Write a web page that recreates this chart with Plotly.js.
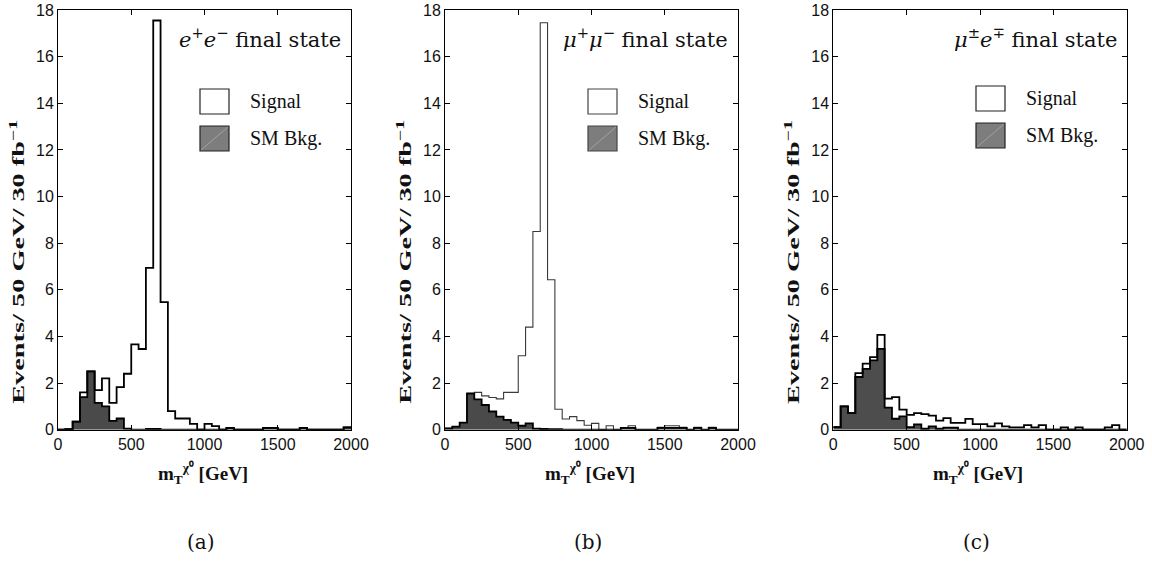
<!DOCTYPE html>
<html>
<head>
<meta charset="utf-8">
<script src="https://cdn.plot.ly/plotly-3.0.1.min.js"></script>
<style>
html,body{margin:0;padding:0;background:#fff;}
#chart{width:1152px;height:567px;}
</style>
</head>
<body>
<div id="chart"></div>
<script>
// ---- data: 40 bins of 50 GeV from 0 to 2000 GeV ----
const binWidth = 50;
const nBins = 40;
const binEdges = Array.from({length: nBins + 1}, (_, i) => i * binWidth);

const xTickVals = [0, 500, 1000, 1500, 2000];
const yTickVals = [0, 2, 4, 6, 8, 10, 12, 14, 16, 18];

// (a) e+e- final state
const signalEE = [0, 0.02, 0.35, 1.6, 2.5, 1.7, 2.2, 1.15, 1.83, 2.4,
                  3.66, 3.46, 6.94, 17.55, 5.47, 0.8, 0.48, 0.48, 0.25, 0,
                  0.25, 0.15, 0, 0.08, 0, 0, 0, 0, 0.08, 0.08,
                  0, 0, 0, 0.08, 0, 0, 0, 0, 0, 0.1];
const bkgEE    = [0, 0.02, 0.35, 1.4, 2.5, 1.15, 1.0, 0.38, 0.48, 0.05,
                  0, 0, 0.03, 0.03, 0, 0, 0, 0, 0, 0,
                  0, 0, 0, 0.08, 0, 0, 0, 0, 0.08, 0.08,
                  0, 0, 0, 0.08, 0, 0, 0, 0, 0, 0.1];
// (b) mu+mu- final state
const signalMM = [0.06, 0.13, 0.3, 1.57, 1.6, 1.45, 1.38, 1.32, 1.6, 1.6,
                  3.17, 4.4, 8.5, 17.45, 6.43, 0.88, 0.46, 0.56, 0.39, 0.19,
                  0.27, 0, 0.17, 0, 0.08, 0.17, 0, 0, 0, 0.1,
                  0.17, 0.17, 0.1, 0, 0.1, 0, 0.1, 0, 0, 0];
const bkgMM    = [0.06, 0.13, 0.3, 1.55, 1.3, 1.06, 0.78, 0.56, 0.42, 0.3,
                  0.17, 0.27, 0.05, 0.03, 0.02, 0.02, 0, 0, 0, 0,
                  0, 0, 0, 0, 0.08, 0.08, 0, 0, 0, 0.08,
                  0.08, 0.08, 0.08, 0, 0.08, 0, 0.08, 0, 0, 0];
// (c) mu+-e-+ final state
const signalME = [0.11, 1.0, 0.71, 2.43, 2.83, 3.11, 4.07, 1.33, 1.4, 0.86,
                  0.64, 0.71, 0.67, 0.6, 0.39, 0.5, 0.29, 0.29, 0.46, 0.24,
                  0.24, 0.14, 0.27, 0.14, 0.1, 0.1, 0.2, 0.1, 0.2, 0,
                  0, 0.1, 0, 0.1, 0, 0, 0, 0.1, 0.2, 0];
const bkgME    = [0.11, 1.0, 0.71, 2.26, 2.61, 2.97, 3.47, 0.95, 0.47, 0.57,
                  0.11, 0.23, 0.04, 0.14, 0.04, 0.09, 0.09, 0, 0, 0,
                  0, 0, 0, 0, 0, 0, 0, 0, 0, 0,
                  0, 0, 0, 0, 0, 0, 0, 0, 0, 0];

const panelTitles = ['<i>e</i><sup>+</sup><i>e</i><sup>−</sup> final state',
                     '<i>μ</i><sup>+</sup><i>μ</i><sup>−</sup> final state',
                     '<i>μ</i><sup>±</sup><i>e</i><sup>∓</sup> final state'];
const captions = ['(a)', '(b)', '(c)'];
const legendLabels = ['Signal', 'SM Bkg.'];
const yTitle = '<b>Events/ 50 GeV/ 30 fb<sup>−1</sup></b>';
const xTitle = '<b>m<sub>T</sub><sup>χ⁰</sup> [GeV]</b>';

// ---- layout geometry (pixels of the 1152x567 canvas) ----
const W = 1152, H = 567;
const px = v => v / W;
const py = v => 1 - v / H;
const panels = [
  {sig: signalEE, bkg: bkgEE, x0: 58, x1: 351, sigColor: '#000', sigWidth: 1.8, fill: '#4a4a4a', legX: 200, legY: 89},
  {sig: signalMM, bkg: bkgMM, x0: 445, x1: 738, sigColor: '#3a3a3a', sigWidth: 1.1, fill: '#4a4a4a', legX: 588, legY: 89},
  {sig: signalME, bkg: bkgME, x0: 833.3, x1: 1126.7, sigColor: '#000', sigWidth: 1.8, fill: '#4d4d4d', legX: 976, legY: 86}
];
const yTop = 10, yBot = 429.7;

function stepY(vals) { return vals.concat([vals[vals.length - 1]]); }

const traces = [];
const layout = {
  width: W, height: H,
  margin: {l: 0, r: 0, t: 0, b: 0},
  paper_bgcolor: '#fff', plot_bgcolor: '#fff',
  showlegend: false,
  font: {family: 'Liberation Sans, Arial, sans-serif', size: 16, color: '#111'},
  annotations: [], shapes: []
};

panels.forEach((p, i) => {
  const xa = i === 0 ? 'x' : 'x' + (i + 1);
  const ya = i === 0 ? 'y' : 'y' + (i + 1);
  const xKey = i === 0 ? 'xaxis' : 'xaxis' + (i + 1);
  const yKey = i === 0 ? 'yaxis' : 'yaxis' + (i + 1);

  // background filled histogram
  traces.push({x: binEdges, y: stepY(p.bkg), xaxis: xa, yaxis: ya, type: 'scatter', mode: 'lines',
    line: {shape: 'hv', width: 0, color: p.fill}, fill: 'tozeroy', fillcolor: p.fill, hoverinfo: 'skip'});
  // signal outline
  traces.push({x: binEdges, y: stepY(p.sig), xaxis: xa, yaxis: ya, type: 'scatter', mode: 'lines',
    line: {shape: 'hv', width: p.sigWidth, color: p.sigColor}, hoverinfo: 'skip'});
  // background outline
  traces.push({x: binEdges, y: stepY(p.bkg), xaxis: xa, yaxis: ya, type: 'scatter', mode: 'lines',
    line: {shape: 'hv', width: 1.8, color: '#000'}, hoverinfo: 'skip'});

  layout[xKey] = {
    domain: [px(p.x0), px(p.x1)], anchor: ya, range: [0, 2000],
    tickvals: xTickVals, ticktext: xTickVals.map(String), ticks: 'inside', ticklen: 5,
    tickcolor: '#000', showline: true, linecolor: '#000', linewidth: 1, mirror: 'ticks',
    showgrid: false, zeroline: false, fixedrange: true
  };
  layout[yKey] = {
    domain: [py(yBot), py(yTop)], anchor: xa, range: [0, 18],
    tickvals: yTickVals, ticktext: yTickVals.map(String), ticks: 'inside', ticklen: 5,
    tickcolor: '#000', showline: true, linecolor: '#000', linewidth: 1, mirror: 'ticks',
    showgrid: false, zeroline: false, fixedrange: true
  };

  const cx = (p.x0 + p.x1) / 2;
  // panel label
  layout.annotations.push({xref: 'paper', yref: 'paper', x: px(p.x1 - 8), y: py(38), xanchor: 'right', yanchor: 'middle',
    text: panelTitles[i], showarrow: false, font: {family: 'DejaVu Serif, serif', size: 21, color: '#111'}});
  // axis titles
  layout.annotations.push({xref: 'paper', yref: 'paper', x: px(p.x0 - 41), y: py(262), xanchor: 'center', yanchor: 'middle',
    text: yTitle, textangle: -90, showarrow: false, font: {family: 'Liberation Serif, Times New Roman, serif', size: 17, color: '#111'}});
  layout.annotations.push({xref: 'paper', yref: 'paper', x: px(cx - 2), y: py(473), xanchor: 'center', yanchor: 'middle',
    text: xTitle, showarrow: false, font: {family: 'Liberation Serif, Times New Roman, serif', size: 19, color: '#111'}});
  // caption
  layout.annotations.push({xref: 'paper', yref: 'paper', x: px(cx - 4), y: py(542), xanchor: 'center', yanchor: 'middle',
    text: captions[i], showarrow: false, font: {family: 'DejaVu Serif, serif', size: 20, color: '#111'}});

  // legend boxes
  const bw = 29, bh = 25, gap = 37;
  const lc = i === 1 ? '#444' : '#222';
  layout.shapes.push({type: 'rect', xref: 'paper', yref: 'paper',
    x0: px(p.legX), x1: px(p.legX + bw), y0: py(p.legY + bh), y1: py(p.legY),
    line: {color: lc, width: 1.2}, fillcolor: '#fff'});
  layout.shapes.push({type: 'rect', xref: 'paper', yref: 'paper',
    x0: px(p.legX), x1: px(p.legX + bw), y0: py(p.legY + gap + bh), y1: py(p.legY + gap),
    line: {color: lc, width: 1.2}, fillcolor: '#7d7d7d'});
  layout.shapes.push({type: 'line', xref: 'paper', yref: 'paper',
    x0: px(p.legX + 1), x1: px(p.legX + bw - 1), y0: py(p.legY + gap + bh - 1), y1: py(p.legY + gap + 1),
    line: {color: '#b8b8b8', width: 0.6}});
  legendLabels.forEach((lab, k) => {
    layout.annotations.push({xref: 'paper', yref: 'paper', x: px(p.legX + bw + 19), y: py(p.legY + bh / 2 + k * gap),
      xanchor: 'left', yanchor: 'middle', text: lab, showarrow: false,
      font: {family: 'Liberation Serif, Times New Roman, serif', size: 20, color: '#111'}});
  });
});

Plotly.newPlot('chart', traces, layout, {staticPlot: true, displayModeBar: false}).then(gd => {
  // the reference y titles are drawn horizontally stretched along their length
  gd.querySelectorAll('text.annotation-text').forEach(t => {
    if (t.textContent.indexOf('Events') === 0) {
      t.setAttribute('textLength', '284');
      t.setAttribute('lengthAdjust', 'spacingAndGlyphs');
    }
  });
});
</script>
</body>
</html>
